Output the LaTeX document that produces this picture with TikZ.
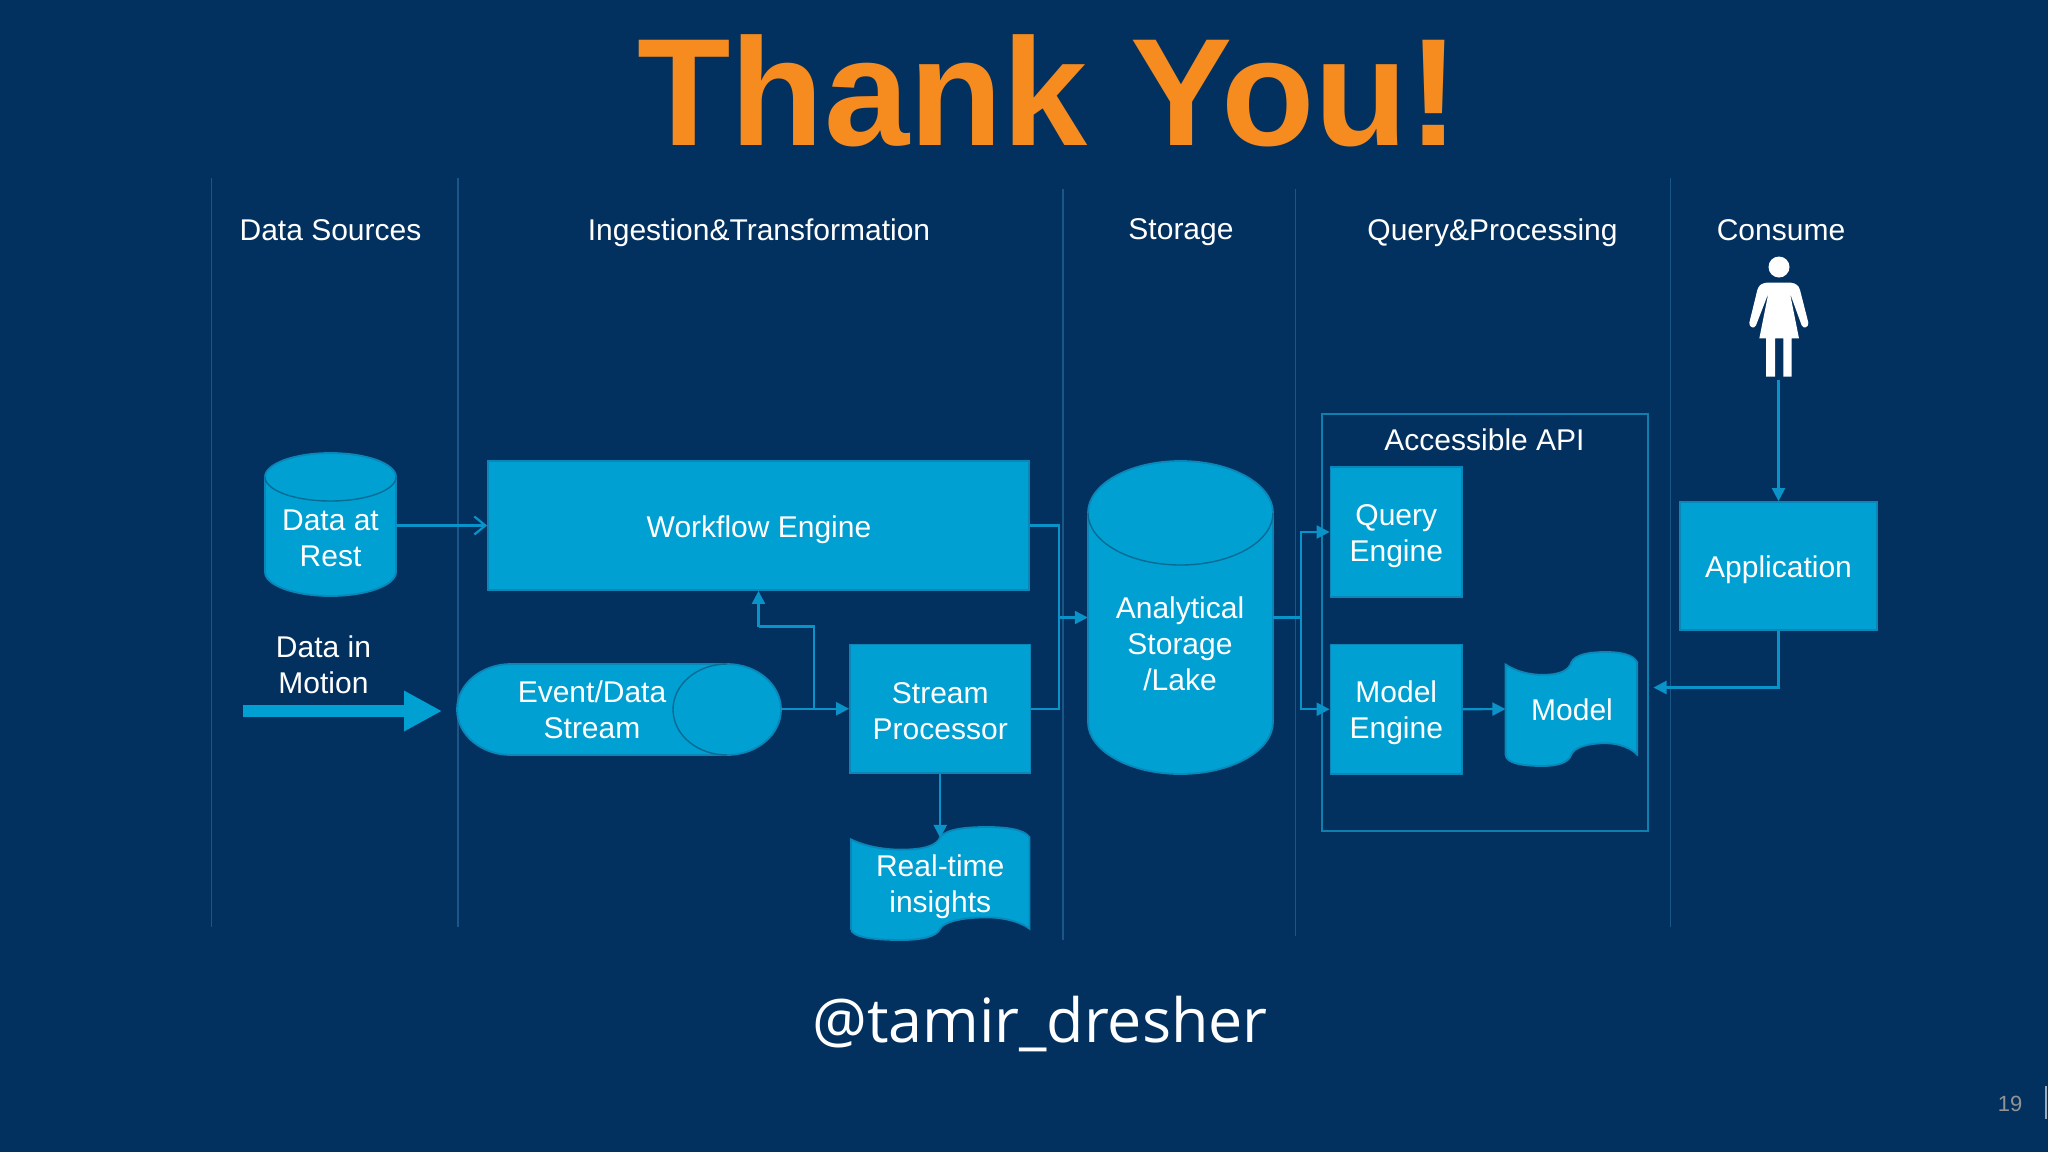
\documentclass[tikz,border=0pt]{standalone}
\usepackage{fontspec}
\setmainfont{Liberation Sans}
\newfontfamily\handlefont{Open Sans}
\usetikzlibrary{arrows.meta}
\definecolor{bgblue}{HTML}{02315F}
\definecolor{boxblue}{HTML}{00A0D3}
\definecolor{edgeblue}{HTML}{0A86B8}
\definecolor{linkblue}{HTML}{0A93C9}
\definecolor{apiblue}{HTML}{0F80AE}
\definecolor{lanecol}{HTML}{1A5688}
\definecolor{titleorange}{HTML}{F68B1F}
\tikzset{
  x=1pt,y=-1pt,
  lane/.style={draw=lanecol,line width=1.1pt},
  lbl/.style={text=white,align=center,inner sep=0pt,font=\fontsize{30}{36}\selectfont},
  boxnode/.style={draw=edgeblue,fill=boxblue,line width=1.8pt,rectangle,inner sep=0pt},
  slot/.style={draw=none,rectangle,inner sep=0pt},
  body/.style={fill=boxblue,draw=edgeblue,line width=1.8pt},
  rim/.style={draw=edgeblue!80!black,line width=1.4pt},
  conn/.style={draw=linkblue,line width=2.2pt},
  link/.style={conn,-{Triangle[length=13pt,width=13pt]}},
  openlink/.style={conn,-{Straight Barb[length=11pt,width=18pt]}},
  sized/.style 2 args={minimum width=#1pt,minimum height=#2pt},
}
\begin{document}
\begin{tikzpicture}
\fill[bgblue] (0,0) rectangle (2048,1152);
\useasboundingbox (0,0) rectangle (2048,1152);

% lanes
\coordinate (l1a) at (211.5,178); \coordinate (l1b) at (211.5,927);
\coordinate (l2a) at (458,178);   \coordinate (l2b) at (458,927);
\coordinate (l3a) at (1063,189);  \coordinate (l3b) at (1063,940);
\coordinate (l4a) at (1295.5,189);\coordinate (l4b) at (1295.5,936);
\coordinate (l5a) at (1670.5,178);\coordinate (l5b) at (1670.5,927);
\foreach \n in {1,...,5} \draw[lane] (l\n a) -- (l\n b);

% title, headers
\node[inner sep=0pt,text=titleorange,font=\fontsize{153}{153}\bfseries\selectfont] (title) at (1048,91) {Thank You!};
\node[lbl] (h1) at (330.5,230) {Data Sources};
\node[lbl] (h2) at (759,232.6) {Ingestion\&Transformation};
\node[lbl] (h3) at (1181,232.6) {Storage};
\node[lbl] (h4) at (1492.5,232.6) {Query\&Processing};
\node[lbl] (h5) at (1781,230) {Consume};

% data at rest
\path[body] (265,477) -- (265,572) arc[start angle=180,end angle=360,x radius=65.5pt,y radius=24pt] -- (396,477)
  arc[start angle=0,end angle=180,x radius=65.5pt,y radius=24pt] -- cycle;
\draw[rim] (265,477) arc[start angle=180,end angle=360,x radius=65.5pt,y radius=24pt];
\node[slot,sized={131}{143}] (rest) at (330.5,524.5) {};
\node[lbl] (resttxt) at (330.5,538) {Data at\\Rest};

% workflow engine
\node[boxnode,sized={541}{129}] (wf) at (758.5,525.5) {};
\node[lbl] (wftxt) at (759,529.5) {Workflow Engine};

% data in motion
\node[lbl] (motion) at (323.5,665) {Data in\\Motion};
\coordinate (m1) at (243,711); \coordinate (m2) at (442,711);
\draw[boxblue,line width=12pt,-{Triangle[length=38pt,width=38pt]}] (m1) -- (m2);

% event stream
\path[body] (511,664) -- (727,664) arc[start angle=90,end angle=-90,x radius=54pt,y radius=45.5pt]
  -- (511,755) arc[start angle=270,end angle=90,x radius=54pt,y radius=45.5pt] -- cycle;
\draw[rim] (727,664) arc[start angle=90,end angle=270,x radius=54pt,y radius=45.5pt];
\node[slot,sized={324}{91}] (ev) at (619,709.5) {};
\node[lbl] (evtxt) at (592,710) {Event/Data\\Stream};

% stream processor
\node[boxnode,sized={180.5}{128.5}] (sp) at (940.25,708.75) {};
\node[lbl] (sptxt) at (940.25,711) {Stream\\Processor};

% insights document
\begin{scope}[shift={(851pt,-827pt)},x=178.5pt,y=-113pt]
\path[body] (0,.11) .. controls (.08,.17) and (.18,.2) .. (.28,.2)
  .. controls (.42,.2) and (.48,.16) .. (.5,.09)
  .. controls (.53,.02) and (.64,0) .. (.76,0)
  .. controls (.87,0) and (.97,.02) .. (1,.09) -- (1,.9)
  .. controls (.96,.85) and (.87,.8) .. (.76,.8)
  .. controls (.62,.8) and (.52,.84) .. (.5,.9)
  .. controls (.48,.97) and (.40,1) .. (.28,1)
  .. controls (.14,1) and (0,.98) .. (0,.9) -- cycle;
\end{scope}
\node[slot,sized={178.5}{113}] (rt) at (940.25,883.5) {};
\node[lbl] (rttxt) at (940.25,887) {Real-time\\insights};

% storage
\path[body] (1088,513) -- (1088,722) arc[start angle=180,end angle=360,x radius=92.5pt,y radius=52pt] -- (1273,513)
  arc[start angle=0,end angle=180,x radius=92.5pt,y radius=52pt] -- cycle;
\draw[rim] (1088,513) arc[start angle=180,end angle=360,x radius=92.5pt,y radius=52pt];
\node[slot,sized={185}{313}] (st) at (1180.5,617.5) {};
\node[lbl] (sttxt) at (1180,644) {Analytical\\Storage\\/Lake};

% API
\draw[draw=apiblue,line width=2pt] (1321.5,414) rectangle (1647.5,831);
\node[lbl] (api) at (1484.5,440) {Accessible API};
\node[boxnode,sized={131.5}{130}] (qe) at (1396.25,532) {};
\node[lbl] (qetxt) at (1396.25,536) {Query\\Engine};
\node[boxnode,sized={131.5}{129.5}] (me) at (1396.25,709.25) {};
\node[lbl] (metxt) at (1396.25,713) {Model\\Engine};
\begin{scope}[shift={(1505.6pt,-652pt)},x=131.5pt,y=-114pt]
\path[body] (0,.11) .. controls (.08,.17) and (.18,.2) .. (.28,.2)
  .. controls (.42,.2) and (.48,.16) .. (.5,.09)
  .. controls (.53,.02) and (.64,0) .. (.76,0)
  .. controls (.87,0) and (.97,.02) .. (1,.09) -- (1,.9)
  .. controls (.96,.85) and (.87,.8) .. (.76,.8)
  .. controls (.62,.8) and (.52,.84) .. (.5,.9)
  .. controls (.48,.97) and (.40,1) .. (.28,1)
  .. controls (.14,1) and (0,.98) .. (0,.9) -- cycle;
\end{scope}
\node[slot,sized={131.5}{114}] (md) at (1571.35,709) {};
\node[lbl] (mdtxt) at (1572,710) {Model};

% application and person
\node[boxnode,sized={197}{128}] (app) at (1778.5,566) {};
\node[lbl] (apptxt) at (1778.5,570) {Application};
\fill[white] (1779,267) circle[radius=10.5];
\begin{scope}[shift={(1720pt,-240pt)},x=.3333pt,y=-.3333pt]
\fill[white] (140,128) -- (212,128) .. controls (228,130) and (236,136) .. (240,150) -- (265,248)
 .. controls (267,262) and (250,268) .. (245,256) -- (210,160) -- (237,295) -- (215,295) -- (215,410)
 -- (190,410) -- (190,295) -- (165,295) -- (165,410) -- (138,410) -- (138,295) -- (118,295) -- (145,160)
 -- (108,256) .. controls (103,268) and (86,262) .. (88,248) -- (112,150) .. controls (116,136) and (124,130) .. (140,128) -- cycle;
\end{scope}
\node[inner sep=0pt,minimum width=60pt,minimum height=120pt] (person) at (1778.5,319) {};

% connectors
\coordinate (j1) at (1059,617.5);
\coordinate (j2) at (814,626.5);
\coordinate (j3) at (1301,617.5);
\coordinate (mtip) at (1653.5,687.5);
\draw[openlink] (rest.east |- wf.west) -- (wf.west);
\draw[link] (ev.east |- sp.west) -- (sp.west);
\draw[conn] (sp.west -| j2) -- (j2) -- (j2 -| wf.south);
\draw[link] (j2 -| wf.south) -- (wf.south);
\draw[conn] (wf.east) -| (j1);
\draw[conn] (sp.east) -| (j1);
\draw[link] (j1) -- (st.west);
\draw[conn] (st.east) -- (j3);
\draw[link] (j3) |- (qe.west);
\draw[link] (j3) |- (me.west);
\draw[link] (me.east) -- (md.west);
\draw[link] (sp.south) -- ++(0,64);
\draw[link] (person.south) ++(0,1) -- (app.north);
\draw[link] (app.south) |- (mtip);

% footer
\node[inner sep=0pt,text=white,font=\handlefont\fontsize{61}{66}\selectfont] (handle) at (1040,1024) {@tamir\_dresher};
\node[inner sep=0pt,text=gray!85,font=\fontsize{22}{24}\selectfont] (pg) at (2010,1104) {19};
\coordinate (b1) at (2046,1086); \coordinate (b2) at (2046,1119);
\draw[white!60!bgblue,line width=1.6pt] (b1) -- (b2);
\end{tikzpicture}
\end{document}
